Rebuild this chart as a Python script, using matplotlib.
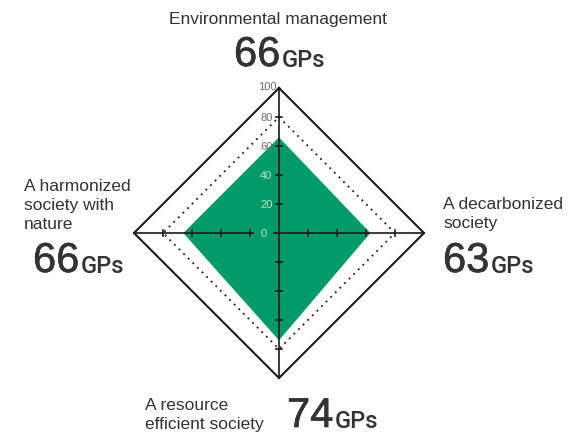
import matplotlib
matplotlib.use('Agg')
import matplotlib.pyplot as plt
import matplotlib.patheffects as pe
import numpy as np

# ---- data ----
categories = ['Environmental management', 'A decarbonized\nsociety',
              'A resource\nefficient society', 'A harmonized\nsociety with\nnature']
scores = [66, 63, 74, 66]          # top, right, bottom, left
tick_values = [0, 20, 40, 60, 80, 100]
outer_level = 100
dotted_level = 80
unit = 'GPs'

# ---- style ----
green = '#009B69'
dark = '#231815'
txt = '#333333'
FW, FH, DPI = 576, 435, 100
font = 'Liberation Sans'
unit_font = ['Roboto', 'DejaVu Sans']

fig = plt.figure(figsize=(FW / DPI, FH / DPI), dpi=DPI)
ax = fig.add_axes([0, 0, 1, 1])
cx, cy, s = 279, 234, 1.45
ax.set_xlim(-cx / s, (FW - cx) / s)
ax.set_ylim(-(FH - cy) / s, cy / s)
ax.axis('off')

dirs = np.array([[0, 1], [1, 0], [0, -1], [-1, 0]])


def poly(vals):
    pts = dirs * np.asarray(vals, dtype=float)[:, None]
    return np.vstack([pts, pts[:1]])


p = poly(scores)
ax.fill(p[:, 0], p[:, 1], color=green, lw=0, zorder=1)
o = poly([outer_level] * 4)
ax.plot(o[:, 0], o[:, 1], color=dark, lw=1.5, zorder=3, solid_joinstyle='miter')
d = poly([dotted_level] * 4)
ax.plot(d[:, 0], d[:, 1], color=dark, lw=1.3, ls=(0, (1, 2.6)), zorder=2)

ax.plot([-outer_level, outer_level], [0, 0], color=dark, lw=1.2, zorder=4)
ax.plot([0, 0], [-outer_level, outer_level], color=dark, lw=1.2, zorder=4)
tl = 2.2
for v in tick_values[1:-1]:
    for sgn in (1, -1):
        ax.plot([sgn * v, sgn * v], [-tl, tl], color=dark, lw=1.2, zorder=4)
        ax.plot([-tl, tl], [sgn * v, sgn * v], color=dark, lw=1.2, zorder=4)

for v in tick_values:
    inside = v < scores[0] - 10
    col = '#bde3cf' if inside else '#707070'
    if v == 0:
        ax.text(-8.5, v, str(v), ha='right', va='center', fontsize=8, family=font,
                color=col, zorder=6,
                bbox=dict(boxstyle='square,pad=0.55', fc=green, ec='none'))
    elif v == 100:
        ax.text(-1.6, v + 1.5, str(v), ha='right', va='center', fontsize=8,
                family=font, color=col, zorder=6)
    else:
        ax.text(-4.5, v, str(v), ha='right', va='center', fontsize=8,
                family=font, color=col, zorder=6)


def px(x, y):
    return x / FW, 1 - y / FH


renderer = fig.canvas.get_renderer()
thick = [pe.withStroke(linewidth=0.45, foreground=txt)]


def score_label(x, yb, val):
    t = fig.text(*px(x, yb), str(val), fontsize=30, family=font, color=txt,
                 ha='left', va='baseline', path_effects=thick)
    bb = t.get_window_extent(renderer)
    fig.text((bb.x1 + 1) / FW, 1 - yb / FH, unit, fontsize=17, family=unit_font,
             weight='medium', color=txt, ha='left', va='baseline')


LS = 1.35
# top
fig.text(*px(278, 24), categories[0], fontsize=12.5, family=font, color=txt,
         ha='center', va='baseline')
score_label(234, 67, scores[0])
# right
fig.text(*px(443, 228), categories[1], fontsize=12.5, family=font, color=txt,
         ha='left', va='baseline', linespacing=LS)
score_label(443, 273, scores[1])
# bottom
fig.text(*px(145, 429), categories[2], fontsize=12.5, family=font, color=txt,
         ha='left', va='baseline', linespacing=LS)
score_label(287, 428, scores[2])
# left
fig.text(*px(24, 229), categories[3], fontsize=12.5, family=font, color=txt,
         ha='left', va='baseline', linespacing=LS)
score_label(33, 273, scores[3])

fig.savefig('out.png', dpi=DPI)
